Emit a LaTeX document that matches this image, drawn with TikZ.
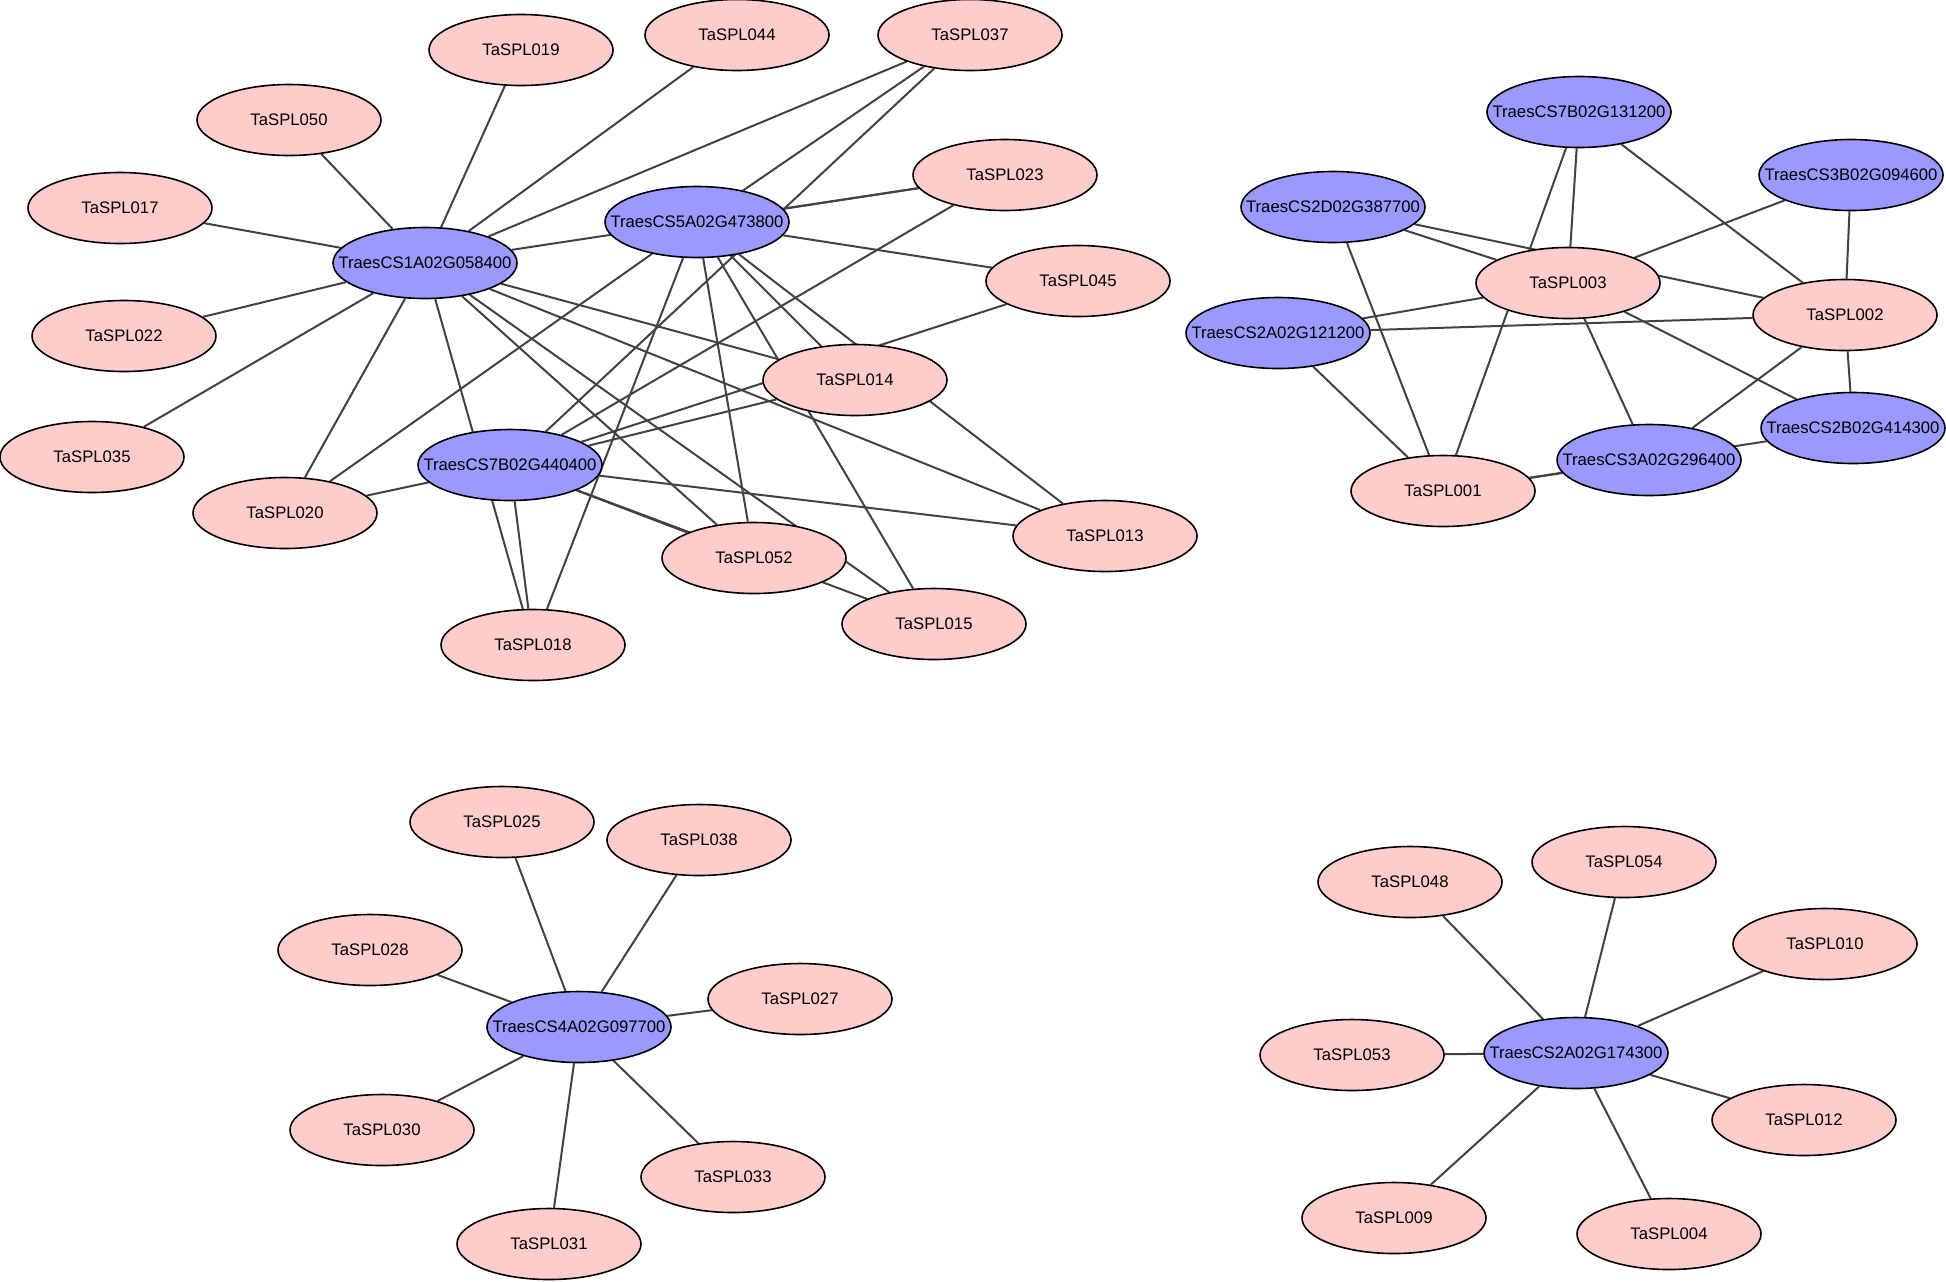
\documentclass[tikz,border=0pt]{standalone}
\usepackage{fontspec}
\setmainfont{Liberation Sans}
\usepackage{tikz}
\usetikzlibrary{shapes,backgrounds}

\definecolor{splpink}{RGB}{255,204,204}
\definecolor{geneblue}{RGB}{153,153,255}
\definecolor{edgegray}{RGB}{66,66,66}
\newcommand{\glabel}[1]{\makebox[0pt]{#1}}

\begin{document}
\begin{tikzpicture}[
    x=0.5pt, y=-0.5pt,
    genenode/.style={
        ellipse,
        minimum width=92pt,  minimum height=35.5pt,
        inner sep=0pt,
        draw=black,
        line width=0.8pt,
        font=\fontsize{8.35}{10}\selectfont
    },
    splnode/.style={genenode, fill=splpink},
    hubnode/.style={genenode, fill=geneblue},
    link/.style={draw=edgegray, line width=1pt}
]
\useasboundingbox (0,0) rectangle (1946,1281);

% first network
\node[splnode] (spl019) at (521, 50)  {\glabel{TaSPL019}};
\node[splnode] (spl044) at (737, 35)  {\glabel{TaSPL044}};
\node[splnode] (spl037) at (970, 35)  {\glabel{TaSPL037}};
\node[splnode] (spl050) at (289, 120) {\glabel{TaSPL050}};
\node[splnode] (spl017) at (120, 208) {\glabel{TaSPL017}};
\node[splnode] (spl023) at (1005,175) {\glabel{TaSPL023}};
\node[splnode] (spl045) at (1078,281) {\glabel{TaSPL045}};
\node[splnode] (spl022) at (124, 336) {\glabel{TaSPL022}};
\node[splnode] (spl014) at (855, 380) {\glabel{TaSPL014}};
\node[splnode] (spl035) at (92,  457) {\glabel{TaSPL035}};
\node[splnode] (spl020) at (285, 513) {\glabel{TaSPL020}};
\node[splnode] (spl013) at (1105,536) {\glabel{TaSPL013}};
\node[splnode] (spl052) at (754, 558) {\glabel{TaSPL052}};
\node[splnode] (spl015) at (934, 624) {\glabel{TaSPL015}};
\node[splnode] (spl018) at (533, 645) {\glabel{TaSPL018}};

\node[hubnode] (t1a058) at (425, 263) {\glabel{TraesCS1A02G058400}};
\node[hubnode] (t5a473) at (697, 222) {\glabel{TraesCS5A02G473800}};
\node[hubnode] (t7b440) at (510, 465) {\glabel{TraesCS7B02G440400}};

% second network
\node[hubnode] (t7b131) at (1579,112) {\glabel{TraesCS7B02G131200}};
\node[hubnode] (t3b094) at (1851,175) {\glabel{TraesCS3B02G094600}};
\node[hubnode] (t2d387) at (1333,207) {\glabel{TraesCS2D02G387700}};
\node[hubnode] (t2a121) at (1278,333) {\glabel{TraesCS2A02G121200}};
\node[hubnode] (t2b414) at (1853,428) {\glabel{TraesCS2B02G414300}};
\node[hubnode] (t3a296) at (1649,460) {\glabel{TraesCS3A02G296400}};

\node[splnode] (spl003) at (1568,283) {\glabel{TaSPL003}};
\node[splnode] (spl002) at (1845,315) {\glabel{TaSPL002}};
\node[splnode] (spl001) at (1443,491) {\glabel{TaSPL001}};

% third network
\node[hubnode] (t4a097) at (579,1027) {\glabel{TraesCS4A02G097700}};
\node[splnode] (spl025) at (502, 822) {\glabel{TaSPL025}};
\node[splnode] (spl038) at (699, 840) {\glabel{TaSPL038}};
\node[splnode] (spl028) at (370, 950) {\glabel{TaSPL028}};
\node[splnode] (spl027) at (800, 999) {\glabel{TaSPL027}};
\node[splnode] (spl030) at (382,1130) {\glabel{TaSPL030}};
\node[splnode] (spl033) at (733,1177) {\glabel{TaSPL033}};
\node[splnode] (spl031) at (549,1244) {\glabel{TaSPL031}};

% fourth network
\node[hubnode] (t2a174) at (1576,1053) {\glabel{TraesCS2A02G174300}};
\node[splnode] (spl048) at (1410, 882) {\glabel{TaSPL048}};
\node[splnode] (spl054) at (1624, 862) {\glabel{TaSPL054}};
\node[splnode] (spl010) at (1825, 944) {\glabel{TaSPL010}};
\node[splnode] (spl053) at (1352,1055) {\glabel{TaSPL053}};
\node[splnode] (spl012) at (1804,1120) {\glabel{TaSPL012}};
\node[splnode] (spl009) at (1394,1218) {\glabel{TaSPL009}};
\node[splnode] (spl004) at (1669,1234) {\glabel{TaSPL004}};

\begin{pgfonlayer}{background}
\draw[link] (t1a058) -- (spl019);
\draw[link] (t1a058) -- (spl044);
\draw[link] (t1a058) -- (spl037);
\draw[link] (t1a058) -- (spl050);
\draw[link] (t1a058) -- (spl017);
\draw[link] (t1a058) -- (spl022);
\draw[link] (t1a058) -- (spl035);
\draw[link] (t1a058) -- (spl020);
\draw[link] (t1a058) -- (spl018);
\draw[link] (t1a058) -- (spl023);
\draw[link] (t1a058) -- (spl014);
\draw[link] (t1a058) -- (spl013);
\draw[link] (t1a058) -- (spl052);
\draw[link] (t1a058) -- (spl015);

\draw[link] (t5a473) -- (spl023);
\draw[link] (t5a473) -- (spl045);
\draw[link] (t5a473) -- (spl037);
\draw[link] (t5a473) -- (spl020);
\draw[link] (t5a473) -- (spl018);
\draw[link] (t5a473) -- (spl052);
\draw[link] (t5a473) -- (spl015);
\draw[link] (t5a473) -- (spl014);
\draw[link] (t5a473) -- (spl013);

\draw[link] (t7b440) -- (spl037);
\draw[link] (t7b440) -- (spl023);
\draw[link] (t7b440) -- (spl014);
\draw[link] (t7b440) -- (spl045);
\draw[link] (t7b440) -- (spl013);
\draw[link] (t7b440) -- (spl052);
\draw[link] (t7b440) -- (spl015);
\draw[link] (t7b440) -- (spl018);
\draw[link] (t7b440) -- (spl020);

\draw[link] (t7b131) -- (spl003);
\draw[link] (t7b131) -- (spl002);
\draw[link] (t7b131) -- (spl001);
\draw[link] (t3b094) -- (spl003);
\draw[link] (t3b094) -- (spl002);
\draw[link] (t2d387) -- (spl003);
\draw[link] (t2d387) -- (spl002);
\draw[link] (t2d387) -- (spl001);
\draw[link] (t2a121) -- (spl003);
\draw[link] (t2a121) -- (spl002);
\draw[link] (t2a121) -- (spl001);
\draw[link] (t3a296) -- (spl003);
\draw[link] (t3a296) -- (spl002);
\draw[link] (t3a296) -- (spl001);
\draw[link] (t2b414) -- (spl003);
\draw[link] (t2b414) -- (spl002);
\draw[link] (t2b414) -- (spl001);

\draw[link] (t4a097) -- (spl025);
\draw[link] (t4a097) -- (spl038);
\draw[link] (t4a097) -- (spl028);
\draw[link] (t4a097) -- (spl027);
\draw[link] (t4a097) -- (spl030);
\draw[link] (t4a097) -- (spl033);
\draw[link] (t4a097) -- (spl031);

\draw[link] (t2a174) -- (spl048);
\draw[link] (t2a174) -- (spl054);
\draw[link] (t2a174) -- (spl010);
\draw[link] (t2a174) -- (spl053);
\draw[link] (t2a174) -- (spl012);
\draw[link] (t2a174) -- (spl009);
\draw[link] (t2a174) -- (spl004);
\end{pgfonlayer}

\end{tikzpicture}
\end{document}
